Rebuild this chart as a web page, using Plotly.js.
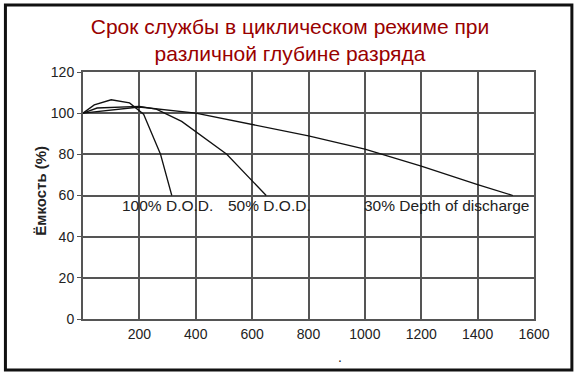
<!DOCTYPE html>
<html>
<head>
<meta charset="utf-8">
<script src="https://cdn.plot.ly/plotly-3.0.1.min.js"></script>
<style>html,body{margin:0;padding:0;background:#fff;}#chart{width:580px;height:379px;}</style>
</head>
<body>
<div id="chart"></div>
<script>
// Cycles and capacity (%) for each depth of discharge
const cycles100 = [0, 40, 100, 165, 215, 275, 315];
const capacity100 = [100, 104, 106.5, 105, 99.5, 80, 60];

const cycles50 = [0, 50, 200, 260, 350, 510, 650];
const capacity50 = [100, 102.5, 103.3, 102, 96, 80, 60];

const cycles30 = [0, 100, 200, 400, 600, 700, 800, 1000, 1200, 1400, 1525];
const capacity30 = [100, 101.5, 103, 100, 94.5, 91.5, 89, 82.5, 74.3, 65.3, 60];

const xTicks = [200, 400, 600, 800, 1000, 1200, 1400, 1600];
const yTicks = [0, 20, 40, 60, 80, 100, 120];

const seriesLabels = ['100% D.O.D.', '50% D.O.D.', '30% Depth of discharge'];
const labelX = [300, 662, 1290];
const labelY = [55, 55, 55];

const titleText = 'Срок службы в циклическом режиме при<br>различной глубине разряда';
const yTitle = 'Ёмкость (%)';

const lineStyle = {color: '#111', width: 1.3};
const traces = [
  {x: cycles100, y: capacity100, mode: 'lines', line: lineStyle, hoverinfo: 'skip'},
  {x: cycles50, y: capacity50, mode: 'lines', line: lineStyle, hoverinfo: 'skip'},
  {x: cycles30, y: capacity30, mode: 'lines', line: lineStyle, hoverinfo: 'skip'}
];

const font = {family: 'Liberation Sans, Arial, sans-serif', size: 14, color: '#222'};
const labelFont = {family: 'Liberation Sans, Arial, sans-serif', size: 15.5, color: '#222'};

const annotations = seriesLabels.map((t, i) => ({
  x: labelX[i], y: labelY[i], xref: 'x', yref: 'y', text: t, showarrow: false,
  font: labelFont, xanchor: 'center', yanchor: 'middle'
}));
annotations.push({
  x: -0.095, y: 0.52, xref: 'paper', yref: 'paper', text: yTitle, showarrow: false,
  textangle: -90, font: {family: 'Liberation Sans, Arial, sans-serif', size: 15, color: '#222', weight: 'bold'},
  xanchor: 'center', yanchor: 'middle'
});
annotations.push({
  x: 0.57, y: -0.155, xref: 'paper', yref: 'paper', text: '.', showarrow: false,
  font: font, xanchor: 'center', yanchor: 'middle'
});

const layout = {
  width: 580, height: 379,
  margin: {l: 83, r: 46, t: 72, b: 60},
  paper_bgcolor: '#fff', plot_bgcolor: '#fff',
  showlegend: false,
  font: font,
  title: {
    text: titleText, x: 0.5, xanchor: 'center', y: 0.91, yanchor: 'middle',
    font: {family: 'Liberation Sans, Arial, sans-serif', size: 21, color: '#990000'}
  },
  xaxis: {
    range: [0, 1600], tickvals: xTicks, ticktext: xTicks.map(String),
    showgrid: true, gridcolor: '#555', gridwidth: 2,
    showline: true, linecolor: '#555', linewidth: 2, mirror: true,
    zeroline: false, ticks: '', ticklabelstandoff: 1,
    tickfont: font, fixedrange: true
  },
  yaxis: {
    range: [0, 120], tickvals: yTicks, ticktext: yTicks.map(String),
    showgrid: true, gridcolor: '#555', gridwidth: 2,
    showline: true, linecolor: '#555', linewidth: 2, mirror: true,
    zeroline: false, ticks: 'outside', ticklen: 4, tickcolor: '#555',
    tickfont: font, fixedrange: true
  },
  annotations: annotations,
  shapes: [{
    type: 'rect', xref: 'paper', yref: 'paper',
    x0: -0.172, x1: 1.084, y0: -0.206, y1: 1.271,
    line: {color: '#111', width: 3}, fillcolor: 'rgba(0,0,0,0)', layer: 'below'
  }]
};

Plotly.newPlot('chart', traces, layout, {displayModeBar: false, staticPlot: true});
</script>
</body>
</html>
